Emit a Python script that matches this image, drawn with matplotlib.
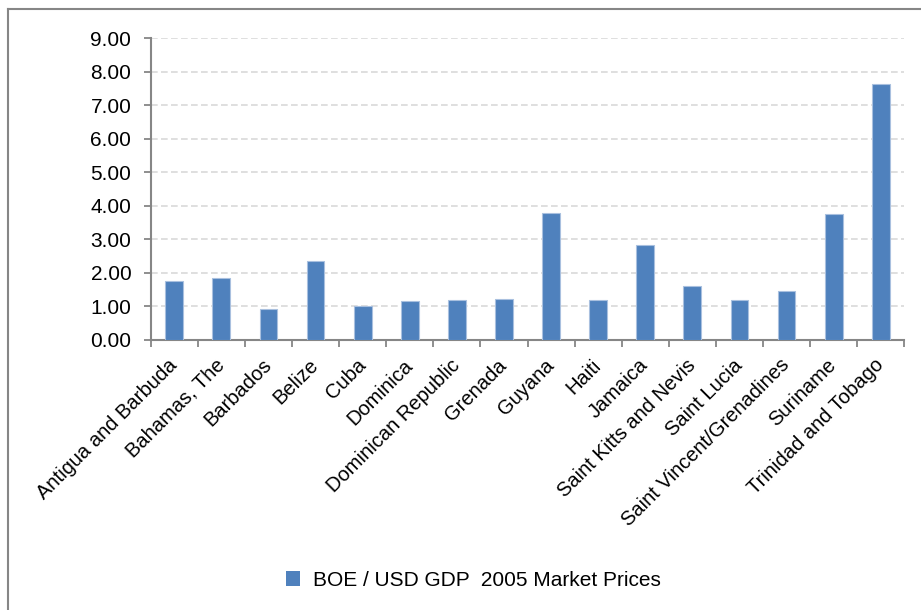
import matplotlib
matplotlib.use("Agg")
import matplotlib.pyplot as plt
from matplotlib.lines import Line2D
from matplotlib.patches import Patch
import matplotlib.transforms as mtransforms

categories = ["Antigua and Barbuda", "Bahamas, The", "Barbados", "Belize", "Cuba",
              "Dominica", "Dominican Republic", "Grenada", "Guyana", "Haiti",
              "Jamaica", "Saint Kitts and Nevis", "Saint Lucia",
              "Saint Vincent/Grenadines", "Suriname", "Trinidad and Tobago"]
values = [1.77, 1.85, 0.92, 2.35, 1.02, 1.16, 1.20, 1.22, 3.78, 1.18,
          2.83, 1.60, 1.20, 1.46, 3.76, 7.64]
yticks = [0, 1, 2, 3, 4, 5, 6, 7, 8, 9]
series_name = "BOE / USD GDP  2005 Market Prices"

plt.rcParams['font.family'] = ['Liberation Sans', 'DejaVu Sans']

W, H = 921, 610
fig = plt.figure(figsize=(W / 100, H / 100), dpi=100)
left, right, top, bottom = 150.7, 904.3, 38.3, 340.0
ax = fig.add_axes([left / W, 1 - bottom / H, (right - left) / W, (bottom - top) / H])

x = list(range(len(categories)))
ax.bar(x, values, width=0.38, color='#4F81BD', edgecolor='#a9c0df', linewidth=0.8, zorder=3)

ax.set_xlim(-0.5, len(categories) - 0.5)
ax.set_ylim(0, 9)
ax.set_yticks(yticks)
ax.set_yticklabels([f"{v:.2f}" for v in yticks], fontsize=15)
ax.yaxis.grid(True, color='#d9d9d9', linestyle=(0, (4, 2)), linewidth=1.2, zorder=0)
ax.set_axisbelow(True)

ax.set_xticks([i - 0.5 for i in range(len(categories) + 1)], minor=False)
ax.set_xticklabels([])
ax.set_xticks(x, minor=True)
labels = ax.set_xticklabels(categories, minor=True, rotation=45, ha='right', va='center',
                            rotation_mode='anchor', fontsize=14.5)
offset = mtransforms.ScaledTranslation(-3 / 100, 0, fig.dpi_scale_trans)
for lab in labels:
    lab.set_transform(lab.get_transform() + offset)
ax.tick_params(axis='x', which='minor', length=0, pad=16)
ax.tick_params(axis='x', which='major', length=5, width=1.3, color='#868686', direction='out')
ax.tick_params(axis='y', length=5, width=1.3, color='#868686', pad=9)

for s in ['top', 'right']:
    ax.spines[s].set_visible(False)
for s in ['left', 'bottom']:
    ax.spines[s].set_color('#868686')
    ax.spines[s].set_linewidth(1.5)

handle = Patch(facecolor='#4F81BD', edgecolor='none')
fig.legend([handle], [series_name], loc='center', bbox_to_anchor=(473 / W, 1 - 580 / H),
           frameon=False, fontsize=15, handlelength=0.7, handleheight=0.7,
           handletextpad=0.6)

# outer chart border (left and top)
fig.add_artist(Line2D([7.5 / W, 7.5 / W], [0, 1 - 8.5 / H], transform=fig.transFigure,
                      color='#868686', linewidth=1.5))
fig.add_artist(Line2D([7.5 / W, 1], [1 - 8.5 / H, 1 - 8.5 / H], transform=fig.transFigure,
                      color='#868686', linewidth=1.5))

fig.savefig("out.png", dpi=100)
